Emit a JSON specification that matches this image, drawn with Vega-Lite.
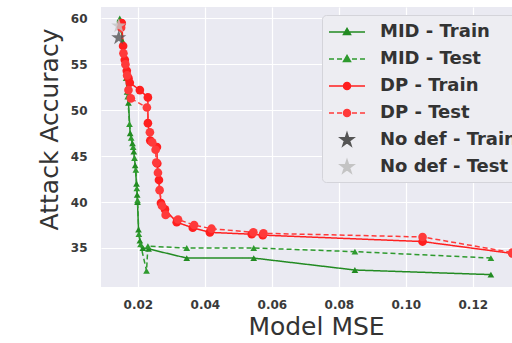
{
  "$schema": "https://vega.github.io/schema/vega-lite/v6.json",
  "width": 411,
  "height": 280,
  "autosize": "none",
  "padding": {"left": 101, "top": 7, "right": 0, "bottom": 56},
  "background": "white",
  "config": {
    "view": {"fill": "#EAEAF2", "stroke": null},
    "axis": {
      "domain": false, "ticks": false, "gridColor": "white", "gridWidth": 1.2,
      "labelFont": "DejaVu Sans", "labelFontWeight": "bold", "labelFontSize": 12, "labelColor": "#3a3a3a",
      "titleFont": "DejaVu Sans", "titleFontWeight": "normal", "titleFontSize": 25, "titleColor": "#333333"
    }
  },
  "data": {"values": [
    {"series": "MID - Train", "o": 1, "mse": 0.0146, "acc": 60.0},
    {"series": "MID - Train", "o": 2, "mse": 0.0155, "acc": 57.5},
    {"series": "MID - Train", "o": 3, "mse": 0.0162, "acc": 55.2},
    {"series": "MID - Train", "o": 4, "mse": 0.0168, "acc": 52.0},
    {"series": "MID - Train", "o": 5, "mse": 0.0172, "acc": 50.8},
    {"series": "MID - Train", "o": 6, "mse": 0.0177, "acc": 47.5},
    {"series": "MID - Train", "o": 7, "mse": 0.0184, "acc": 46.4},
    {"series": "MID - Train", "o": 8, "mse": 0.0188, "acc": 45.5},
    {"series": "MID - Train", "o": 9, "mse": 0.0192, "acc": 44.0},
    {"series": "MID - Train", "o": 10, "mse": 0.0196, "acc": 42.0},
    {"series": "MID - Train", "o": 11, "mse": 0.0198, "acc": 40.8},
    {"series": "MID - Train", "o": 12, "mse": 0.0199, "acc": 40.0},
    {"series": "MID - Train", "o": 13, "mse": 0.0202, "acc": 37.0},
    {"series": "MID - Train", "o": 14, "mse": 0.0206, "acc": 35.8},
    {"series": "MID - Train", "o": 15, "mse": 0.0215, "acc": 35.0},
    {"series": "MID - Train", "o": 16, "mse": 0.0232, "acc": 34.9},
    {"series": "MID - Train", "o": 17, "mse": 0.0346, "acc": 33.9},
    {"series": "MID - Train", "o": 18, "mse": 0.0546, "acc": 33.9},
    {"series": "MID - Train", "o": 19, "mse": 0.0848, "acc": 32.6},
    {"series": "MID - Train", "o": 20, "mse": 0.1254, "acc": 32.1},
    {"series": "MID - Test", "o": 1, "mse": 0.0146, "acc": 59.8},
    {"series": "MID - Test", "o": 2, "mse": 0.0157, "acc": 56.5},
    {"series": "MID - Test", "o": 3, "mse": 0.0165, "acc": 53.5},
    {"series": "MID - Test", "o": 4, "mse": 0.0170, "acc": 51.5},
    {"series": "MID - Test", "o": 5, "mse": 0.0175, "acc": 48.5},
    {"series": "MID - Test", "o": 6, "mse": 0.0180, "acc": 47.0},
    {"series": "MID - Test", "o": 7, "mse": 0.0186, "acc": 46.0},
    {"series": "MID - Test", "o": 8, "mse": 0.0190, "acc": 44.8},
    {"series": "MID - Test", "o": 9, "mse": 0.0194, "acc": 43.5},
    {"series": "MID - Test", "o": 10, "mse": 0.0197, "acc": 41.5},
    {"series": "MID - Test", "o": 11, "mse": 0.0199, "acc": 40.2},
    {"series": "MID - Test", "o": 12, "mse": 0.0203, "acc": 36.5},
    {"series": "MID - Test", "o": 13, "mse": 0.0208, "acc": 35.4},
    {"series": "MID - Test", "o": 14, "mse": 0.0226, "acc": 32.5},
    {"series": "MID - Test", "o": 15, "mse": 0.0230, "acc": 35.2},
    {"series": "MID - Test", "o": 16, "mse": 0.0346, "acc": 35.0},
    {"series": "MID - Test", "o": 17, "mse": 0.0546, "acc": 35.0},
    {"series": "MID - Test", "o": 18, "mse": 0.0848, "acc": 34.6},
    {"series": "MID - Test", "o": 19, "mse": 0.1254, "acc": 33.9},
    {"series": "DP - Train", "o": 1, "mse": 0.0152, "acc": 59.5},
    {"series": "DP - Train", "o": 2, "mse": 0.0156, "acc": 57.0},
    {"series": "DP - Train", "o": 3, "mse": 0.0161, "acc": 55.5},
    {"series": "DP - Train", "o": 4, "mse": 0.0167, "acc": 54.3},
    {"series": "DP - Train", "o": 5, "mse": 0.0172, "acc": 53.5},
    {"series": "DP - Train", "o": 6, "mse": 0.0176, "acc": 53.0},
    {"series": "DP - Train", "o": 7, "mse": 0.0206, "acc": 52.2},
    {"series": "DP - Train", "o": 8, "mse": 0.0230, "acc": 51.4},
    {"series": "DP - Train", "o": 9, "mse": 0.0230, "acc": 48.6},
    {"series": "DP - Train", "o": 10, "mse": 0.0237, "acc": 46.7},
    {"series": "DP - Train", "o": 11, "mse": 0.0257, "acc": 46.0},
    {"series": "DP - Train", "o": 12, "mse": 0.0258, "acc": 44.2},
    {"series": "DP - Train", "o": 13, "mse": 0.0263, "acc": 42.4},
    {"series": "DP - Train", "o": 14, "mse": 0.0269, "acc": 39.9},
    {"series": "DP - Train", "o": 15, "mse": 0.0281, "acc": 39.2},
    {"series": "DP - Train", "o": 16, "mse": 0.0316, "acc": 37.8},
    {"series": "DP - Train", "o": 17, "mse": 0.0364, "acc": 37.2},
    {"series": "DP - Train", "o": 18, "mse": 0.0415, "acc": 36.7},
    {"series": "DP - Train", "o": 19, "mse": 0.0540, "acc": 36.5},
    {"series": "DP - Train", "o": 20, "mse": 0.0573, "acc": 36.4},
    {"series": "DP - Train", "o": 21, "mse": 0.1050, "acc": 35.7},
    {"series": "DP - Train", "o": 22, "mse": 0.1318, "acc": 34.4},
    {"series": "DP - Test", "o": 1, "mse": 0.0150, "acc": 59.0},
    {"series": "DP - Test", "o": 2, "mse": 0.0157, "acc": 56.2},
    {"series": "DP - Test", "o": 3, "mse": 0.0163, "acc": 55.0},
    {"series": "DP - Test", "o": 4, "mse": 0.0168, "acc": 53.8},
    {"series": "DP - Test", "o": 5, "mse": 0.0172, "acc": 52.2},
    {"series": "DP - Test", "o": 6, "mse": 0.0179, "acc": 51.3},
    {"series": "DP - Test", "o": 7, "mse": 0.0227, "acc": 50.3},
    {"series": "DP - Test", "o": 8, "mse": 0.0236, "acc": 47.6},
    {"series": "DP - Test", "o": 9, "mse": 0.0243, "acc": 46.5},
    {"series": "DP - Test", "o": 10, "mse": 0.0253, "acc": 45.7},
    {"series": "DP - Test", "o": 11, "mse": 0.0255, "acc": 44.3},
    {"series": "DP - Test", "o": 12, "mse": 0.0260, "acc": 43.2},
    {"series": "DP - Test", "o": 13, "mse": 0.0265, "acc": 41.3},
    {"series": "DP - Test", "o": 14, "mse": 0.0272, "acc": 39.6},
    {"series": "DP - Test", "o": 15, "mse": 0.0283, "acc": 38.6},
    {"series": "DP - Test", "o": 16, "mse": 0.0320, "acc": 38.1},
    {"series": "DP - Test", "o": 17, "mse": 0.0368, "acc": 37.5},
    {"series": "DP - Test", "o": 18, "mse": 0.0420, "acc": 37.1},
    {"series": "DP - Test", "o": 19, "mse": 0.0545, "acc": 36.7},
    {"series": "DP - Test", "o": 20, "mse": 0.0575, "acc": 36.6},
    {"series": "DP - Test", "o": 21, "mse": 0.1050, "acc": 36.2},
    {"series": "DP - Test", "o": 22, "mse": 0.1318, "acc": 34.5},
    {"series": "No def - Train", "o": 1, "mse": 0.0143, "acc": 57.9},
    {"series": "No def - Test", "o": 1, "mse": 0.0143, "acc": 59.2}
  ]},
  "encoding": {
    "x": {"field": "mse", "type": "quantitative", "scale": {"domain": [0.009, 0.1317], "nice": false, "zero": false},
      "axis": {"values": [0.02, 0.04, 0.06, 0.08, 0.10, 0.12], "format": ".2f", "labelPadding": 12, "title": "Model MSE", "titlePadding": 4, "titleX": 215}},
    "y": {"field": "acc", "type": "quantitative", "scale": {"domain": [30.75, 61.25], "nice": false, "zero": false},
      "axis": {"values": [35, 40, 45, 50, 55, 60], "labelPadding": 14, "title": "Attack Accuracy", "titlePadding": 8, "titleY": 122}},
    "color": {"field": "series", "type": "nominal",
      "scale": {"domain": ["MID - Train", "MID - Test", "DP - Train", "DP - Test", "No def - Train", "No def - Test"],
                "range": ["#228B22", "#2e9a2e", "#ff1f1f", "#ff3a3a", "#555555", "#c4c4c4"]}}
  },
  "layer": [
    {
      "transform": [{"filter": {"field": "series", "oneOf": ["MID - Train", "MID - Test", "DP - Train", "DP - Test"]}}],
      "mark": {"type": "line", "strokeWidth": 1.5, "clip": true},
      "encoding": {
        "order": {"field": "o", "type": "quantitative"},
        "strokeDash": {"field": "series", "type": "nominal", "legend": null,
          "scale": {"domain": ["MID - Train", "MID - Test", "DP - Train", "DP - Test"], "range": [[1, 0], [5, 3], [1, 0], [5, 3]]}}
      }
    },
    {
      "transform": [{"filter": {"field": "series", "oneOf": ["MID - Train", "MID - Test"]}}],
      "mark": {"type": "point", "shape": "triangle-up", "filled": true, "size": 45, "opacity": 1, "clip": true}
    },
    {
      "transform": [{"filter": {"field": "series", "oneOf": ["DP - Train", "DP - Test"]}}],
      "mark": {"type": "point", "shape": "circle", "filled": true, "size": 75, "opacity": 1, "clip": true}
    },
    {
      "transform": [{"filter": {"field": "series", "oneOf": ["No def - Train", "No def - Test"]}}],
      "mark": {"type": "point", "filled": true, "size": 250, "opacity": 0.8, "clip": true,
        "shape": "M0,-1L0.2245,-0.309L0.951,-0.309L0.363,0.118L0.588,0.809L0,0.382L-0.588,0.809L-0.363,0.118L-0.951,-0.309L-0.2245,-0.309Z"}
    },
    {
      "mark": {"type": "point", "filled": true, "opacity": 0, "clip": true},
      "encoding": {
        "shape": {"field": "series", "type": "nominal",
          "scale": {"domain": ["MID - Train", "MID - Test", "DP - Train", "DP - Test", "No def - Train", "No def - Test"],
            "range": [
              "M-1,0H2.6M0.8,-0.35L1.15,0.25L0.45,0.25Z",
              "M-1,0H-0.5M-0.2,0H0.3M1.3,0H1.8M2.1,0H2.6M0.8,-0.35L1.15,0.25L0.45,0.25Z",
              "M-1,0H2.6M0.45,0A0.35,0.35 0 1,0 1.15,0A0.35,0.35 0 1,0 0.45,0Z",
              "M-1,0H-0.5M-0.2,0H0.3M1.3,0H1.8M2.1,0H2.6M0.45,0A0.35,0.35 0 1,0 1.15,0A0.35,0.35 0 1,0 0.45,0Z",
              "M0.8,-0.7L0.9572,-0.2163L1.4657,-0.2163L1.0541,0.0826L1.2116,0.5663L0.8,0.2674L0.3884,0.5663L0.5459,0.0826L0.1343,-0.2163L0.6428,-0.2163Z",
              "M0.8,-0.7L0.9572,-0.2163L1.4657,-0.2163L1.0541,0.0826L1.2116,0.5663L0.8,0.2674L0.3884,0.5663L0.5459,0.0826L0.1343,-0.2163L0.6428,-0.2163Z"
            ]},
          "legend": {
            "title": null, "orient": "none", "legendX": 221, "legendY": 8,
            "padding": 6, "fillColor": "#EDEDF2", "strokeColor": "#d4d4da", "cornerRadius": 4,
            "symbolSize": 400, "labelOffset": 30, "rowPadding": 7,
            "labelFont": "DejaVu Sans", "labelFontWeight": "bold", "labelFontSize": 18, "labelColor": "#333333",
            "encode": {"symbols": {"update": {
              "fill": {"scale": "color", "field": "value"},
              "stroke": {"scale": "color", "field": "value"},
              "strokeWidth": {"value": 1.6},
              "opacity": {"value": 1}
            }}}
          }
        }
      }
    }
  ]
}
